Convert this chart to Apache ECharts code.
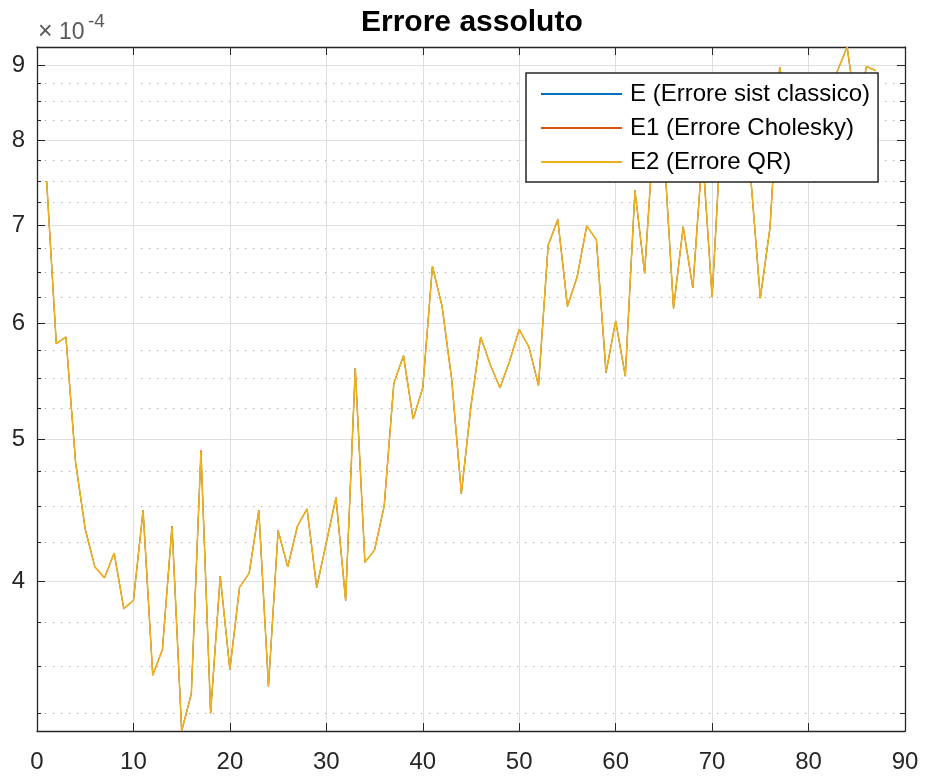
<!DOCTYPE html>
<html>
<head>
<meta charset="utf-8">
<title>Errore assoluto</title>
<script src="https://cdn.jsdelivr.net/npm/echarts@6/dist/echarts.min.js"></script>
<style>
html, body { margin: 0; padding: 0; background: #fff; }
#chart { width: 925px; height: 781px; }
</style>
</head>
<body>
<div id="chart"></div>
<script>
// error values in units of 1e-4, one per iteration (x = 1..87)
var errQR = [7.50, 5.81, 5.87, 4.82, 4.34, 4.09, 4.02, 4.18, 3.83, 3.88,
	4.47, 3.45, 3.59, 4.36, 3.16, 3.35, 4.91, 3.25, 4.03, 3.48,
	3.96, 4.05, 4.47, 3.39, 4.33, 4.09, 4.36, 4.48, 3.96, 4.25,
	4.56, 3.88, 5.59, 4.12, 4.20, 4.50, 5.46, 5.70, 5.16, 5.42,
	6.56, 6.16, 5.49, 4.59, 5.27, 5.87, 5.62, 5.42, 5.65, 5.94,
	5.78, 5.44, 6.78, 7.06, 6.16, 6.45, 6.99, 6.84, 5.55, 6.02,
	5.52, 7.39, 6.49, 8.20, 7.90, 6.14, 6.98, 6.34, 7.85, 6.25,
	8.25, 8.60, 8.00, 7.55, 6.24, 6.97, 8.97, 8.30, 8.70, 8.10,
	8.60, 8.40, 8.92, 9.26, 8.30, 8.98, 8.92
];
// the three curves coincide, only E2 is visible on top
var errSist = errQR.slice();
var errChol = errQR.slice();

var seriesNames = ['E (Errore sist classico)', 'E1 (Errore Cholesky)', 'E2 (Errore QR)'];
var seriesColors = ['#0072BD', '#D95319', '#EDB120'];

var yMajorTicks = [4, 5, 6, 7, 8, 9];
var yMinorTicks = [3.25, 3.5, 3.75, 4.25, 4.5, 4.75, 5.25, 5.5, 5.75, 6.25, 6.5, 6.75,
	7.25, 7.5, 7.75, 8.25, 8.5, 8.75, 9.25];

var font = 'Liberation Sans, Arial, Helvetica, sans-serif';
var axisColor = '#262626';
var yMin = Math.min.apply(null, errQR);
var yMax = Math.max.apply(null, errQR);
yMinorTicks = yMinorTicks.filter(function(v) {
	return v > yMin && v < yMax;
});

function toPoints(arr) {
	return arr.map(function(v, i) {
		return [i + 1, v];
	});
}

function yAxisCfg(position, ticks, tickLen, showLabel, showLine, gridStyle) {
	return {
		type: 'log',
		logBase: 10,
		position: position,
		min: yMin,
		max: yMax,
		axisLine: { show: showLine, lineStyle: { color: axisColor, width: 1.3 } },
		axisTick: { show: true, inside: true, length: tickLen, customValues: ticks,
			lineStyle: { color: axisColor, width: 1 } },
		axisLabel: { show: showLabel, customValues: ticks, margin: 12,
			fontFamily: font, fontSize: 24, color: axisColor,
			formatter: function(v) { return String(Math.round(v)); } },
		splitLine: gridStyle ? { show: true, lineStyle: gridStyle } : { show: false },
		minorTick: { show: false },
		minorSplitLine: { show: false }
	};
}

function xAxisCfg(position, showLabel) {
	return {
		type: 'value',
		position: position,
		min: 0,
		max: 90,
		interval: 10,
		axisLine: { show: true, onZero: false, lineStyle: { color: axisColor, width: 1.3 } },
		axisTick: { show: true, inside: true, length: 8, lineStyle: { color: axisColor } },
		axisLabel: { show: showLabel, margin: 19, fontFamily: font, fontSize: 24, color: axisColor },
		splitLine: { show: showLabel, lineStyle: { color: '#dfdfdf', width: 1 } }
	};
}

var chart = echarts.init(document.getElementById('chart'));

var option = {
	animation: false,
	backgroundColor: '#fff',
	title: {
		text: 'Errore assoluto',
		left: 361,
		top: 8,
		padding: 0,
		textStyle: { fontFamily: font, fontSize: 30, fontWeight: 'bold', color: '#000' }
	},
	graphic: [{
		type: 'text', left: 38, top: 20,
		style: { text: '\u00d7', fontFamily: font, fontSize: 25, fill: '#595959' }
	}, {
		type: 'text', left: 59, top: 21,
		style: { text: '10', fontFamily: font, fontSize: 23, fill: '#595959' }
	}, {
		type: 'text', left: 88, top: 12,
		style: { text: '-4', fontFamily: font, fontSize: 19, fill: '#595959' }
	}],
	legend: {
		data: seriesNames,
		orient: 'vertical',
		left: 526,
		top: 73,
		z: 10,
		padding: [9, 8, 8, 15],
		itemWidth: 81,
		itemHeight: 2,
		itemGap: 10,
		icon: 'rect',
		selectedMode: false,
		backgroundColor: '#fff',
		borderColor: axisColor,
		borderWidth: 1.5,
		textStyle: { fontFamily: font, fontSize: 24, color: '#000', padding: [0, 0, 0, 3] }
	},
	grid: { left: 37, right: 20, top: 47, bottom: 50, containLabel: false },
	xAxis: [xAxisCfg('bottom', true), xAxisCfg('top', false)],
	yAxis: [
		yAxisCfg('left', yMajorTicks, 8, true, true, { color: '#dfdfdf', width: 1 }),
		yAxisCfg('left', yMinorTicks, 4, false, false, { color: '#a8a8a8', width: 1.2, type: [1.2, 6.8] }),
		yAxisCfg('right', yMajorTicks, 8, false, true, null),
		yAxisCfg('right', yMinorTicks, 5, false, false, null)
	],
	series: [errSist, errChol, errQR].map(function(arr, i) {
		return {
			name: seriesNames[i],
			type: 'line',
			data: toPoints(arr),
			xAxisIndex: 0,
			yAxisIndex: 0,
			showSymbol: false,
			symbol: 'none',
			// lower curves slightly thinner so the top one covers them fully
			lineStyle: { color: seriesColors[i], width: i === 2 ? 1.6 : 1 },
			itemStyle: { color: seriesColors[i] },
			z: 2
		};
	})
};

chart.setOption(option);
</script>
</body>
</html>
